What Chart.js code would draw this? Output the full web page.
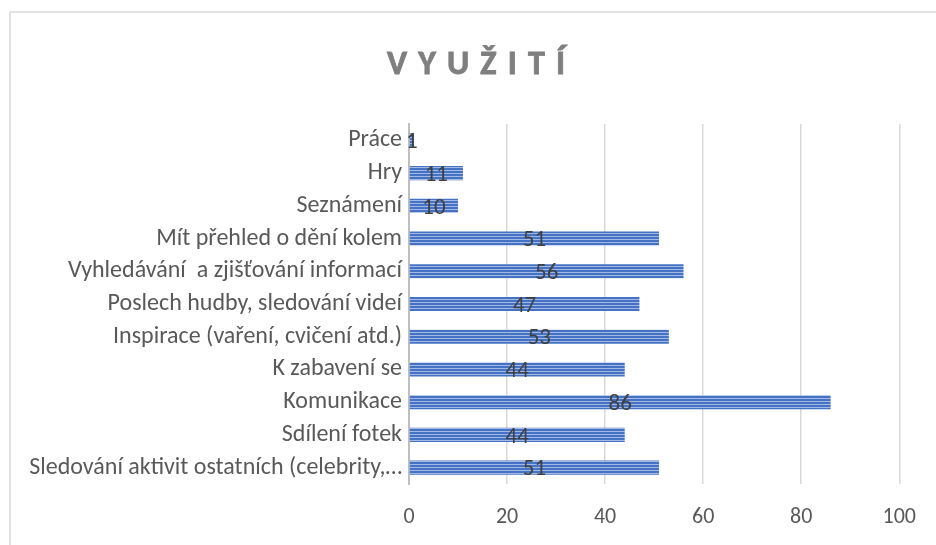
<!DOCTYPE html>
<html lang="cs">
<head>
<meta charset="UTF-8">
<title>Využití</title>
<script src="https://cdn.jsdelivr.net/npm/chart.js"></script>
<style>
	body { margin: 0; padding: 0; background: #fff; }
	#chart { display: block; }
</style>
</head>
<body>
<canvas id="chart" width="936" height="545"></canvas>
<script>
	// Data
	const chartTitle = 'VYUŽITÍ';
	const categories = [
		'Práce',
		'Hry',
		'Seznámení',
		'Mít přehled o dění kolem',
		'Vyhledávání  a zjišťování informací',
		'Poslech hudby, sledování videí',
		'Inspirace (vaření, cvičení atd.)',
		'K zabavení se',
		'Komunikace',
		'Sdílení fotek',
		'Sledování aktivit ostatních (celebrity,…'
	];
	const values = [1, 11, 10, 51, 56, 47, 53, 44, 86, 44, 51];
	const xTicks = [0, 20, 40, 60, 80, 100];

	const FONT = 'Carlito, Lato, "Liberation Sans", sans-serif';

	// striped fill like the original
	function stripePattern() {
		const c = document.createElement('canvas');
		c.width = 4;
		c.height = 3;
		const g = c.getContext('2d');
		g.fillStyle = '#4472C4';
		g.fillRect(0, 0, 4, 2);
		g.fillStyle = '#A3B9E4';
		g.fillRect(0, 2, 4, 1);
		return g.createPattern(c, 'repeat');
	}

	// frame + title
	const framePlugin = {
		id: 'frame',
		afterDraw(chart) {
			const ctx = chart.ctx;
			ctx.save();
			ctx.strokeStyle = '#D9D9D9';
			ctx.lineWidth = 1.5;
			ctx.beginPath();
			ctx.moveTo(10, 545);
			ctx.lineTo(10, 12);
			ctx.lineTo(936, 12);
			ctx.stroke();

			// title with wide letter spacing
			ctx.font = 'bold 34px Carlito, Lato, sans-serif';
			ctx.fillStyle = '#7F7F7F';
			ctx.strokeStyle = '#7F7F7F';
			ctx.lineWidth = 0.8;
			ctx.textBaseline = 'middle';
			ctx.textAlign = 'left';
			const chars = Array.from(chartTitle);
			const natural = chars.reduce((s, ch) => s + ctx.measureText(ch).width, 0);
			const targetW = 178;
			const gap = (targetW - natural) / (chars.length - 1);
			let x = 476 - targetW / 2;
			chars.forEach(ch => {
				ctx.fillText(ch, x, 65);
				ctx.strokeText(ch, x, 65);
				x += ctx.measureText(ch).width + gap;
			});
			ctx.restore();
		}
	};

	// value labels centred in bars
	const labelPlugin = {
		id: 'barLabels',
		afterDatasetsDraw(chart) {
			const ctx = chart.ctx;
			const meta = chart.getDatasetMeta(0);
			ctx.save();
			ctx.font = '23px ' + FONT;
			ctx.fillStyle = '#404040';
			ctx.textAlign = 'center';
			ctx.textBaseline = 'middle';
			meta.data.forEach((bar, i) => {
				const cx = (bar.x + bar.base) / 2;
				ctx.fillText(String(values[i]), cx, bar.y + 2);
			});
			ctx.restore();
		}
	};

	new Chart(document.getElementById('chart'), {
		type: 'bar',
		data: {
			labels: categories,
			datasets: [{
				data: values,
				backgroundColor: stripePattern(),
				borderWidth: 0,
				barPercentage: 0.43,
				categoryPercentage: 1.0
			}]
		},
		options: {
			indexAxis: 'y',
			responsive: false,
			animation: false,
			layout: {
				padding: { top: 124, right: 33, bottom: 0, left: 0 }
			},
			plugins: {
				legend: { display: false },
				title: { display: false },
				tooltip: { enabled: false }
			},
			scales: {
				x: {
					min: 0,
					max: 100,
					afterBuildTicks(scale) {
						scale.ticks = xTicks.map(v => ({ value: v }));
					},
					afterFit(scale) {
						scale.height = 61;
					},
					grid: {
						color: '#D9D9D9',
						lineWidth: 1.5,
						drawTicks: false
					},
					border: { display: false },
					ticks: {
						color: '#595959',
						font: { family: FONT, size: 22 },
						padding: 20
					}
				},
				y: {
					afterFit(scale) {
						scale.width = 409;
					},
					grid: { display: false, drawTicks: false },
					border: { display: true, color: '#BFBFBF', width: 2 },
					ticks: {
						color: '#595959',
						font: { family: FONT, size: 24 },
						padding: 7
					}
				}
			}
		},
		plugins: [framePlugin, labelPlugin]
	});
</script>
</body>
</html>
